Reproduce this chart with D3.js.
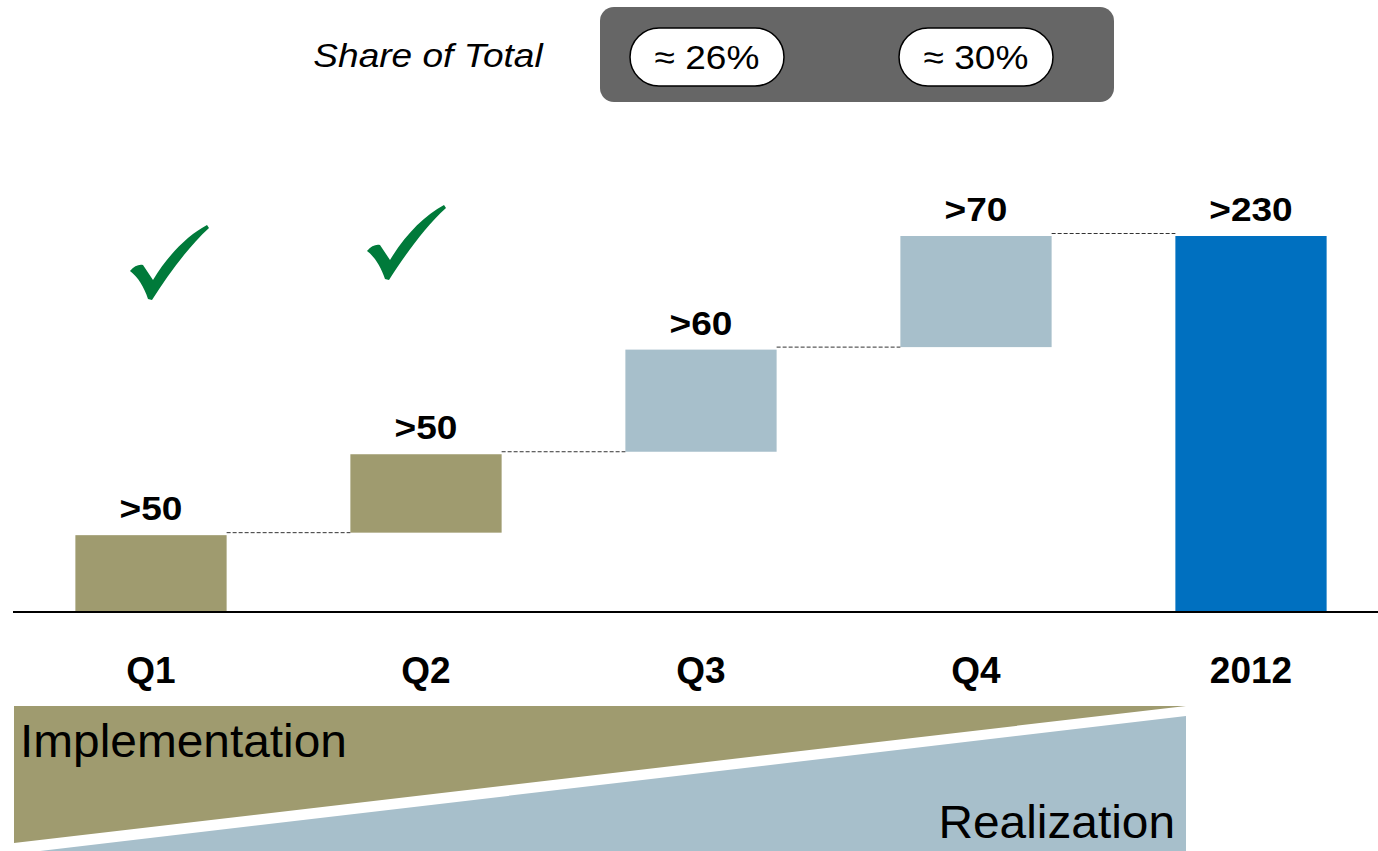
<!DOCTYPE html>
<html>
<head>
<meta charset="utf-8">
<script src="https://cdn.jsdelivr.net/npm/d3@7/dist/d3.min.js"></script>
<style>
  html, body { margin: 0; padding: 0; background: #ffffff; }
  svg { display: block; font-family: "Liberation Sans", Arial, sans-serif; }
</style>
</head>
<body>
<svg id="chart" width="1378" height="851"></svg>
<script>
// ---- data ----
const categories = ["Q1", "Q2", "Q3", "Q4", "2012"];
const stepValues = [47, 49.5, 64, 69.5];          // quarterly increments (estimated)
const totalValue = 230;                              // 2012 total
const valueLabels = [">50", ">50", ">60", ">70", ">230"];
const barKinds = ["impl", "impl", "real", "real", "total"];
const shareCategories = ["Q3", "Q4"];
const shareLabels = ["\u2248 26%", "\u2248 30%"];
const checkedCategories = ["Q1", "Q2"];

// ---- layout ----
const W = 1378, H = 851;
const baseY = 612, topY = 236;
const gap = 2.5;
const stretch = 1.09;
const colors = { impl: "#9F9B6F", real: "#A7BFCB", total: "#0070C0" };
const checkOffsets = [18, -20];
const checkTops = [225, 205];
const pillOffsets = [6, 0];

const svg = d3.select("#chart");

const x = d3.scaleBand().domain(categories).range([13.5, 1388.5])
  .paddingInner(0.45).paddingOuter(0.225);
const y = d3.scaleLinear().domain([0, totalValue]).range([baseY, topY]);

// build waterfall records
let cum = 0;
const bars = categories.map((c, i) => {
  let start, end;
  if (i < stepValues.length) { start = cum; end = cum + stepValues[i]; cum = end; }
  else { start = 0; end = totalValue; }
  return { cat: c, start, end, label: valueLabels[i], kind: barKinds[i], floating: start > 0 };
});

// bars
svg.append("g").selectAll("rect").data(bars).join("rect")
  .attr("x", d => x(d.cat))
  .attr("width", x.bandwidth())
  .attr("y", d => y(d.end))
  .attr("height", d => y(d.start) - y(d.end) - (d.floating ? gap : 0))
  .attr("fill", d => colors[d.kind]);

// connectors
const conns = bars.slice(0, -1).map((d, i) => ({ x1: x(d.cat) + x.bandwidth(), x2: x(bars[i + 1].cat), v: d.end }));
svg.append("g").selectAll("line").data(conns).join("line")
  .attr("x1", d => d.x1).attr("x2", d => d.x2)
  .attr("y1", d => y(d.v) - gap).attr("y2", d => y(d.v) - gap)
  .attr("stroke", "#333").attr("stroke-width", 1).attr("stroke-dasharray", "4,2");

// value labels
svg.append("g").selectAll("text").data(bars).join("text")
  .attr("transform", d => `translate(${x(d.cat) + x.bandwidth() / 2},${y(d.end) - 15}) scale(${stretch},1)`)
  .attr("text-anchor", "middle")
  .attr("font-weight", "bold").attr("font-size", 34)
  .text(d => d.label);

// axis baseline
const xAxis = d3.axisBottom(x).tickSize(0).tickPadding(0);
const ax = svg.append("g").attr("transform", `translate(0,${baseY})`).call(xAxis);
ax.select(".domain").attr("d", `M13,0H${W}`).attr("stroke", "#000").attr("stroke-width", 2);
ax.selectAll(".tick text")
  .attr("y", 71).attr("dy", 0)
  .attr("font-family", "Liberation Sans, Arial, sans-serif")
  .attr("font-size", 37).attr("font-weight", "bold").attr("fill", "#000");

// checkmarks
const checkPath = "M0,46 C4,41 9,39 13,40 L23,55 C38,30 58,10 77,0 L79,3 C58,22 38,50 22,75 L18,74 C14,62 8,52 0,46 Z";
svg.append("g").selectAll("path").data(checkedCategories).join("path")
  .attr("d", checkPath)
  .attr("transform", (c, i) => `translate(${x(c) + x.bandwidth() / 2 + checkOffsets[i] - 39},${checkTops[i]})`)
  .attr("fill", "#007A3A");

// share of total header
svg.append("text").attr("transform", `translate(428,67) scale(${stretch},1)`)
  .attr("text-anchor", "middle").attr("font-style", "italic").attr("font-size", 34)
  .text("Share of Total");
svg.append("rect").attr("x", 600).attr("y", 7).attr("width", 514).attr("height", 95)
  .attr("rx", 14).attr("fill", "#666666");
const pillW = 154, pillH = 58;
const pills = svg.append("g").selectAll("g").data(shareCategories).join("g")
  .attr("transform", (c, i) => `translate(${x(c) + x.bandwidth() / 2 + pillOffsets[i]},57)`);
pills.append("rect").attr("x", -pillW / 2).attr("y", -pillH / 2)
  .attr("width", pillW).attr("height", pillH).attr("rx", pillH / 2)
  .attr("fill", "#fff").attr("stroke", "#000").attr("stroke-width", 1.5);
pills.append("text").attr("text-anchor", "middle").attr("transform", `translate(0,12) scale(${stretch},1)`)
  .attr("font-size", 34).text((c, i) => shareLabels[i]);

// bottom wedges
const wedgeL = 14, wedgeR = 1186;
svg.append("path")
  .attr("d", `M${wedgeL},706 L${wedgeR},706 L${wedgeL},843 Z`)
  .attr("fill", colors.impl);
svg.append("path")
  .attr("d", `M40,${H} L${wedgeR},716 L${wedgeR},${H} Z`)
  .attr("fill", colors.real);
svg.append("text").attr("transform", "translate(20,757) scale(1.04,1)").attr("font-size", 46).text("Implementation");
svg.append("text").attr("transform", "translate(1175,838) scale(1.04,1)").attr("text-anchor", "end").attr("font-size", 46).text("Realization");
</script>
</body>
</html>
